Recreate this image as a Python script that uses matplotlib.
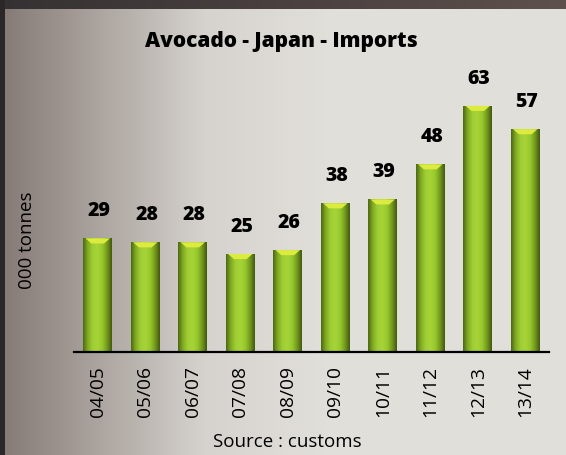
#!/usr/bin/env python3
"""Avocado - Japan - Imports, bar chart with gradient panel."""

import numpy as np
import matplotlib
matplotlib.use("Agg")
import matplotlib.pyplot as plt
from matplotlib.colors import LinearSegmentedColormap

# Data
seasons = ["04/05", "05/06", "06/07", "07/08", "08/09",
           "09/10", "10/11", "11/12", "12/13", "13/14"]
imports = [29, 28, 28, 25, 26, 38, 39, 48, 63, 57]

TITLE = "Avocado - Japan - Imports"
YLABEL = "000 tonnes"
SOURCE = "Source : customs"

plt.rcParams["font.family"] = ["Open Sans", "DejaVu Sans"]

W, H = 566, 456
fig = plt.figure(figsize=(W / 100, H / 100), dpi=100)

# Background: dark frame on top/left, gray-beige gradient panel
bg = np.zeros((H, W, 3))
xs = np.arange(W)
left_col = np.array([0x86, 0x7b, 0x77]) / 255
mid_col = np.array([0xd6, 0xd3, 0xce]) / 255
right_col = np.array([0xe1, 0xdf, 0xda]) / 255
t = np.clip((xs - 5) / 200, 0, 1)[:, None]
row = np.where(t < 1, left_col * (1 - t) + mid_col * t, mid_col)
t2 = np.clip((xs - 205) / 120, 0, 1)[:, None]
row = np.where((xs >= 205)[:, None], mid_col * (1 - t2) + right_col * t2, row)
bg[:, :, :] = row[None, :, :]
top_l = np.array([0x35, 0x31, 0x32]) / 255
top_r = np.array([0x5e, 0x50, 0x4d]) / 255
tt = (xs / (W - 1))[:, None]
bg[:10, :, :] = (top_l * (1 - tt) + top_r * tt)[None, :, :]
bg[:, :5, :] = np.array([0x2b, 0x27, 0x28]) / 255

ax_bg = fig.add_axes([0, 0, 1, 1])
ax_bg.imshow(bg, aspect="auto", interpolation="bilinear")
ax_bg.set_axis_off()

# Main axes
ax = fig.add_axes([74 / W, (H - 352.5) / H, 475 / W, 292.5 / H])
ax.patch.set_alpha(0)
x = np.arange(len(seasons))
bars = ax.bar(x, imports, width=0.61, color="#8fc02a", zorder=2)

# Horizontal gradient inside each bar
bar_cmap = LinearSegmentedColormap.from_list(
    "bar", ["#4e6a14", "#82ad24", "#9fce34", "#a6d438", "#98c82e", "#749a1e", "#425a10"])
grad = np.linspace(0, 1, 64)[None, :]
for b in bars:
    x0, w, h = b.get_x(), b.get_width(), b.get_height()
    im = ax.imshow(grad, cmap=bar_cmap, aspect="auto",
                   extent=(x0, x0 + w, 0, h), zorder=3, interpolation="bilinear")
    im.set_clip_path(b)
    # yellow cap at top of bar
    cap = plt.Polygon([(x0 + 0.08 * w, h), (x0 + 0.92 * w, h),
                       (x0 + 0.72 * w, h - 1.3), (x0 + 0.28 * w, h - 1.3)],
                      closed=True, color="#dcec3e", zorder=4, lw=0)
    ax.add_patch(cap)
    ax.annotate(f"{h:.0f}", (b.get_x() + w / 2, h), xytext=(1, 13),
                textcoords="offset points", ha="center", va="bottom",
                fontsize=14, fontweight="heavy", color="black")

ax.set_xlim(-0.5, 9.5)
ax.set_ylim(0, 75)
for s in ["top", "right", "left"]:
    ax.spines[s].set_visible(False)
ax.spines["bottom"].set_linewidth(1.6)
ax.spines["bottom"].set_zorder(5)
ax.set_yticks([])
ax.set_xticks(x)
ax.set_xticklabels(seasons, rotation=90, fontsize=13.8)
ax.tick_params(axis="x", length=0, pad=10)

fig.text(281 / W, 1 - 41 / H, TITLE, ha="center", va="center",
         fontsize=15, fontweight="heavy")
fig.text(27 / W, 1 - 240 / H, YLABEL, ha="center", va="center",
         rotation=90, fontsize=13.5)
fig.text(287 / W, 1 - 442 / H, SOURCE, ha="center", va="center", fontsize=13.5)

fig.savefig("out.png", dpi=100)
